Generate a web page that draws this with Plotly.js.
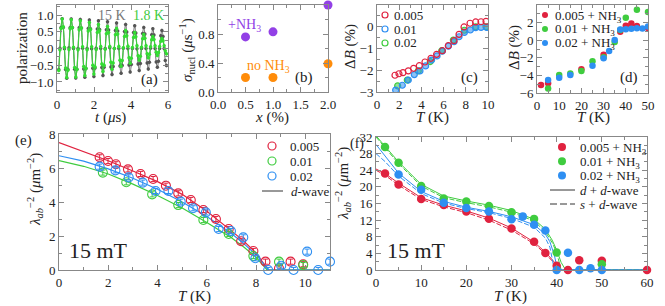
<!DOCTYPE html>
<html><head><meta charset="utf-8">
<script src="https://cdn.plot.ly/plotly-3.0.1.min.js"></script>
<style>html,body{margin:0;padding:0;background:#fff}#plot{width:665px;height:306px}</style>
</head><body><div id="plot"></div>
<script>
// ---------- DATA ----------
// (a) muon polarization, uniform time bins
const binStart = 0.096, binWidth = 0.06125;
const polar15K = [-0.63,0.01,0.63,0.89,0.63,-0.01,-0.63,-0.89, -0.62,0.02,0.62,0.88,0.62,0,-0.62,-0.88,
 -0.62,0,0.62,0.87,0.61,0.01,-0.61,-0.86, -0.60,0,0.60,0.85,0.59,-0.01,-0.59,-0.84,
 -0.58,0.01,0.58,0.83,0.57,0,-0.57,-0.81, -0.56,0,0.56,0.80,0.55,0.02,-0.55,-0.78,
 -0.54,0,0.54,0.76,0.52,0,-0.52,-0.74, -0.51,0.01,0.51,0.72,0.49,0,-0.49,-0.70,
 -0.48,0,0.48,0.68,0.46,-0.01,-0.46,-0.66, -0.45,0,0.45,0.63,0.43,0,-0.43,-0.61,
 -0.41,0.01,0.41,0.59,0.40,0,-0.40,-0.56, -0.38,0,0.38,0.54,0.36,0,-0.36,-0.51];
const polar18K = [-0.66,-0.04,0.60,0.88,0.65,0.04,-0.58,-0.87, -0.65,-0.03,0.59,0.86,0.63,0.04,-0.57,-0.85,
 -0.63,-0.04,0.56,0.83,0.61,0.05,-0.54,-0.81, -0.60,-0.04,0.52,0.78,0.57,0.05,-0.50,-0.76,
 -0.55,-0.03,0.48,0.72,0.53,0.06,-0.46,-0.69, -0.50,-0.02,0.44,0.66,0.48,0.06,-0.41,-0.62,
 -0.43,0.0,0.41,0.60,0.43,0.06,-0.35,-0.53, -0.36,0.02,0.36,0.54,0.38,0.07,-0.28,-0.44,
 -0.29,0.03,0.33,0.48,0.35,0.08,-0.22,-0.35, -0.23,0.04,0.29,0.42,0.31,0.08,-0.16,-0.28,
 -0.17,0.05,0.26,0.36,0.27,0.08,-0.11,-0.21, -0.12,0.06,0.22,0.30,0.23,0.08,-0.07,-0.16];

// (b) nuclear relaxation
const xPct = [0.5, 1.0, 2.0];
const sigmaNH3 = [0.76, 0.83, 1.2];
const sigmaNoNH3 = [0.2, 0.2, 0.39];

// (c) field shift, no NH3
const Tc005 = [1.62,1.98,2.34,2.82,3.3,3.81,4.32,4.86,5.37,5.89,6.43,6.94,7.39,7.84,8.38,8.89,9.37,9.82];
const dBc005 = [-2.23,-2.16,-2.11,-2.03,-1.91,-1.79,-1.62,-1.45,-1.27,-1.10,-0.87,-0.64,-0.35,-0.01,0.16,0.22,0.23,0.25];
const Tc01 = [1.68,2.28,2.82,3.36,3.87,4.38,4.92,5.41,5.89,6.43,6.94,7.39,7.87,8.41,8.89,9.37,9.88];
const dBc01 = [-2.91,-2.69,-2.45,-2.20,-2.03,-1.80,-1.53,-1.34,-1.12,-0.89,-0.69,-0.46,-0.26,-0.15,-0.04,-0.03,-0.03];
const Tc02 = [1.86,2.73,3.72,4.8,5.83,6.88,7.87,8.89,9.82];
const dBc02 = [-2.72,-2.45,-2.03,-1.6,-1.10,-0.61,-0.16,0.0,0.0];

// (d) field shift, + NH3
const Td005 = [1.8,5,20,30,37.5,40,42.5,45,50];
const dBd005 = [-5.1,-4.9,-3.3,-1.65,0.95,1.65,1.9,1.6,1.4];
const Td01 = [5,10,15,20,25,30,35,37.5,40,45,50];
const dBd01 = [-5.5,-3.95,-3.78,-3.5,-2.4,-1.95,-0.2,1.15,2.55,3.45,3.2];
const Td02 = [5,10,15,25,30,32.5,35,37.5,40,42.5,45,47.5,50];
const dBd02 = [-4.52,-4.26,-3.95,-2.9,-2.06,-1.23,0.02,1.23,1.25,1.3,1.35,1.33,1.55];

// (e) superfluid density, no NH3
const Te005 = [1.65,1.99,2.31,2.80,3.31,3.82,4.34,4.84,5.35,5.86,6.37,6.89,7.39,7.89,8.38,8.93,9.40,9.91];
const Le005 = [6.63,6.41,6.22,5.92,5.65,5.35,4.96,4.51,4.12,3.53,3.0,2.41,1.69,1.12,0.49,0.1,0.49,0.34];
const Te01 = [1.78,2.73,3.78,4.84,5.86,6.89,7.89,8.93,9.91];
const Le01 = [5.73,5.16,4.45,3.82,2.94,2.12,0.82,0.49,0.29];
const Te02 = [1.65,2.29,2.83,3.40,3.92,4.44,4.94,5.44,5.96,6.48,6.98,7.48,7.97,8.49,9.02,9.52,10.07,10.52,11.0];
const Le02 = [6.08,5.86,5.45,5.14,4.65,4.65,4.02,3.63,3.39,2.41,2.29,1.92,0.69,0,0.25,0,1.08,0,0.49];
const fitTe005 = [0,1,2,3,4,5,6,7,7.5,8,8.5,11], fitLe005 = [7.5,6.98,6.43,5.82,5.2,4.45,3.45,2.3,1.7,1.0,0,0];
const fitTe01 = [0,1,2,3,4,5,6,7,7.5,8,8.45,11], fitLe01 = [6.43,6.1,5.65,5.05,4.38,3.65,2.8,1.9,1.35,0.75,0,0];
const fitTe02 = [0,1,2,3,4,5,6,7,7.5,8,8.5,11], fitLe02 = [6.72,6.4,5.95,5.4,4.75,4.0,3.15,2.15,1.55,0.9,0,0];

// (f) superfluid density, + NH3
const Tf005 = [2,5,10,15,20,25,30,35,37.5,40,42.5,45,50,60];
const Lf005 = [23.2,20.6,17.1,15.65,14.1,12.35,10.0,6.8,4.1,1.0,0,2.35,2.25,0];
const Tf01 = [2,5,10,15,20,25,30,35,40,50];
const Lf01 = [29.6,25.8,20.2,17.2,16.5,15.4,13.9,12.3,4.2,1.4];
const Tf02 = [5,10,15,20,25,30,32.5,35,37.5,40,42.5,45,47.5,50];
const Lf02 = [23.0,19.3,16.2,14.9,14.1,12.2,12.9,10.9,9.5,0,4.15,0,0.4,0];
const ddT005 = [0,2,5,10,15,20,25,30,35,37.5,39,40,41,60], ddL005 = [24.3,23.2,20.9,17.4,15.6,14.2,12.5,10.1,6.7,4.3,2.5,1.2,0,0];
const sdT005 = [0,2,5,10,15,20,25,30,35,37.5,39,40.5,60], sdL005 = [24.0,22.8,20.4,17.0,15.2,13.8,12.0,9.6,6.3,3.9,2.2,0,0];
const ddT01 = [0,2,5,10,15,20,25,30,35,37.5,39,40,41,42,60], ddL01 = [32.3,29.8,26.0,20.6,17.8,16.6,15.6,14.3,12.2,9.8,7.2,4.8,1.8,0,0];
const sdT01 = [0,2,5,10,15,20,25,30,35,37.5,39,40,41,60], sdL01 = [32.0,29.4,25.6,20.2,17.4,16.2,15.2,13.9,11.8,9.2,6.6,4.2,0,0];
const ddT02 = [0,2,5,10,15,20,25,30,35,37.5,38.5,39.5,40.2,60], ddL02 = [30.2,27.4,23.3,18.9,16.5,15.1,14.1,12.8,10.9,8.6,6.8,3.5,0,0];
const sdT02 = [0,2,5,10,15,20,25,30,35,37.5,38.5,39.5,60], sdL02 = [28.0,26.1,22.6,18.4,16.1,14.8,13.8,12.4,10.3,7.7,5.5,0,0];

// ---------- STYLE ----------
const W = 665, H = 306;
const FONT = 'Liberation Serif';
const RED = '#e0223f', GREEN = '#3fcc3f', BLUE = '#2e8ff2', GRAY = '#555';
const PURPLE = '#9240e6', ORANGE = '#ff8c0a', FRAME = '#888';
const fx = p => p / W, fy = p => 1 - p / H;

function axis(pxRange, range, dtick, minor, fmt, anchor, isY) {
  const dom = isY ? [fy(pxRange[1]), fy(pxRange[0])] : [fx(pxRange[0]), fx(pxRange[1])];
  return {
    domain: dom, range: range, dtick: dtick, tick0: 0, anchor: anchor,
    ticks: 'inside', ticklen: 5, tickwidth: 1, tickcolor: FRAME,
    minor: {dtick: minor, ticks: 'inside', ticklen: 3, tickcolor: FRAME, showgrid: false},
    showline: true, linecolor: FRAME, linewidth: 1, mirror: 'ticks',
    showgrid: false, zeroline: false, tickformat: fmt || '',
    tickfont: {family: FONT, size: 13, color: '#222'}, fixedrange: true
  };
}

const layout = {
  width: W, height: H, margin: {l: 0, r: 0, t: 0, b: 0},
  paper_bgcolor: '#fff', plot_bgcolor: 'rgba(0,0,0,0)', showlegend: false,
  font: {family: FONT, color: '#222'},
  xaxis:  axis([57,168], [0,6], 2, 1, '', 'y', false),
  yaxis:  axis([5,92], [-1.3,1.3], 0.5, 0.25, '.1f', 'x', true),
  xaxis2: axis([218,328], [0,2], 0.5, 0.25, '.1f', 'y2', false),
  yaxis2: axis([5,92], [0,1.2], 0.4, 0.2, '.1f', 'x2', true),
  xaxis3: axis([377,488], [0,10], 2, 1, '', 'y3', false),
  yaxis3: axis([5,92], [-3,1], 1, 0.5, '', 'x3', true),
  xaxis4: axis([537,648], [0,50], 10, 5, '', 'y4', false),
  yaxis4: axis([5,93], [-6,4], 2, 1, '', 'x4', true),
  xaxis5: axis([59,330], [0,11], 2, 1, '', 'y5', false),
  yaxis5: axis([134,270], [0,8], 2, 1, '', 'x5', true),
  xaxis6: axis([376,647], [0,60], 10, 5, '', 'y6', false),
  yaxis6: axis([137,270], [0,32], 4, 2, '', 'x6', true),
  annotations: [], shapes: []
};

function ann(text, x, y, size, opts) {
  layout.annotations.push(Object.assign({
    text: text, xref: 'paper', yref: 'paper', x: fx(x), y: fy(y),
    xanchor: 'center', yanchor: 'middle', showarrow: false,
    font: {family: FONT, size: size, color: '#222'}
  }, opts || {}));
}
function legCircle(x, y, r, color, filled) {
  layout.shapes.push({type: 'circle', xref: 'paper', yref: 'paper',
    xsizemode: 'pixel', ysizemode: 'pixel', xanchor: fx(x), yanchor: fy(y),
    x0: -r, x1: r, y0: -r, y1: r, line: {color: color, width: filled ? 0 : 1.2},
    fillcolor: filled ? color : 'rgba(0,0,0,0)'});
}
function legLine(x0, x1, y, dash) {
  layout.shapes.push({type: 'line', xref: 'paper', yref: 'paper',
    x0: fx(x0), x1: fx(x1), y0: fy(y), y1: fy(y), line: {color: '#333', width: 1, dash: dash || 'solid'}});
}

// axis titles
ann('polarization', 22, 48, 15, {textangle: -90});
ann('<i>t</i> (<i>μ</i>s)', 110, 118, 15);
ann('<i>σ</i><sub>nucl</sub> (<i>μ</i>s<sup>−1</sup>)', 187, 50, 15, {textangle: -90});
ann('<i>x</i> (%)', 272, 118, 15);
ann('Δ<i>B</i> (%)', 350, 47, 15, {textangle: -90});
ann('<i>T</i> (K)', 432, 118, 15);
ann('Δ<i>B</i> (%)', 514, 48, 15, {textangle: -90});
ann('<i>T</i> (K)', 593, 118, 15);
ann('<i>λ</i><sub><i>ab</i></sub><sup>−2</sup> (<i>μ</i>m<sup>−2</sup>)', 35, 190, 15, {textangle: -90});
ann('<i>T</i> (K)', 194, 296, 15);
ann('<i>λ</i><sub><i>ab</i></sub><sup>−2</sup> (<i>μ</i>m<sup>−2</sup>)', 343, 184, 15, {textangle: -90});
ann('<i>T</i> (K)', 511, 296, 15);

// panel labels and texts
ann('(a)', 149, 80, 15); ann('(b)', 304, 77, 15); ann('(c)', 469, 77, 15); ann('(d)', 629, 77, 15);
ann('(e)', 23, 141, 15); ann('(f)', 357, 144, 14);
ann('15 K', 112, 15, 14, {font: {family: FONT, size: 14, color: '#777'}});
ann('1.8 K', 148, 15, 14, {font: {family: FONT, size: 14, color: GREEN}});
ann('+NH<sub>3</sub>', 244, 25, 14, {font: {family: FONT, size: 14, color: PURPLE}});
ann('no NH<sub>3</sub>', 268, 66, 14, {font: {family: FONT, size: 14, color: ORANGE}});
ann('15 mT', 67, 250, 22, {xanchor: 'left'});
ann('15 mT', 385, 250, 22, {xanchor: 'left'});

// legends (c)
[['0.005', RED], ['0.01', BLUE], ['0.02', GREEN]].forEach((e, i) => {
  legCircle(385, 15 + 14 * i, 3, e[1], false);
  ann(e[0], 392, 15 + 14 * i, 13, {xanchor: 'left'});
});
// (d)
[['0.005 + NH<sub>3</sub>', RED], ['0.01 + NH<sub>3</sub>', GREEN], ['0.02 + NH<sub>3</sub>', BLUE]].forEach((e, i) => {
  legCircle(545, 15 + 14 * i, 3, e[1], true);
  ann(e[0], 553, 16 + 14 * i, 13, {xanchor: 'left'});
});
// (e)
[['0.005', RED], ['0.01', GREEN], ['0.02', BLUE]].forEach((e, i) => {
  legCircle(272, 146 + 15 * i, 4, e[1], false);
  ann(e[0], 288, 146 + 15 * i, 13, {xanchor: 'left'});
});
legLine(262, 283, 191); ann('<i>d</i>-wave', 289, 191, 13, {xanchor: 'left'});
// (f)
[['0.005 + NH<sub>3</sub>', RED], ['0.01 + NH<sub>3</sub>', GREEN], ['0.02 + NH<sub>3</sub>', BLUE]].forEach((e, i) => {
  legCircle(562, 147 + 14.3 * i, 4, e[1], true);
  ann(e[0], 578, 148 + 14.3 * i, 13, {xanchor: 'left'});
});
legLine(550, 575, 190); ann('<i>d</i> + <i>d</i>-wave', 578, 190, 13, {xanchor: 'left'});
legLine(550, 575, 204, '7px,3px'); ann('<i>s</i> + <i>d</i>-wave', 578, 204, 13, {xanchor: 'left'});

// ---------- TRACES ----------
const traces = [];
function add(o) { traces.push(Object.assign({type: 'scatter', hoverinfo: 'skip'}, o)); }

// (a)
add({x0: binStart, dx: binWidth, y: polar15K, xaxis: 'x', yaxis: 'y', mode: 'lines+markers',
  line: {color: '#707070', width: 1, shape: 'spline'}, marker: {color: GRAY, size: 3.5},
  error_y: {type: 'constant', value: 0.05, color: GRAY, thickness: 1, width: 0}});
add({x0: binStart, dx: binWidth, y: polar18K, xaxis: 'x', yaxis: 'y', mode: 'lines+markers',
  line: {color: GREEN, width: 1.2, shape: 'spline'}, marker: {color: '#33dd33', size: 3.5},
  error_y: {type: 'constant', value: 0.05, color: '#33dd33', thickness: 1, width: 0}});

// (b)
add({x: xPct, y: sigmaNH3, xaxis: 'x2', yaxis: 'y2', mode: 'markers', cliponaxis: false,
  marker: {color: PURPLE, size: 9}});
add({x: xPct, y: sigmaNoNH3, xaxis: 'x2', yaxis: 'y2', mode: 'markers', cliponaxis: false,
  marker: {color: ORANGE, size: 9}});

// (c)
add({x: Tc02, y: dBc02, xaxis: 'x3', yaxis: 'y3', mode: 'markers', marker: {symbol: 'circle', color: 'rgba(63,204,63,0.55)', size: 6, line: {color: GREEN, width: 1.2}}});
add({x: Tc01, y: dBc01, xaxis: 'x3', yaxis: 'y3', mode: 'markers', marker: {symbol: 'circle', color: 'rgba(46,143,242,0.55)', size: 6, line: {color: BLUE, width: 1.2}}});
add({x: Tc005, y: dBc005, xaxis: 'x3', yaxis: 'y3', mode: 'markers', marker: {symbol: 'circle-open', color: RED, size: 6, line: {width: 1.2}}});

// (d)
add({x: Td005, y: dBd005, xaxis: 'x4', yaxis: 'y4', mode: 'markers', marker: {color: RED, size: 6.5}});
add({x: Td01, y: dBd01, xaxis: 'x4', yaxis: 'y4', mode: 'markers', marker: {color: GREEN, size: 6.5}});
add({x: Td02, y: dBd02, xaxis: 'x4', yaxis: 'y4', mode: 'markers', marker: {color: BLUE, size: 6.5}});

// (e)
add({x: fitTe005, y: fitLe005, xaxis: 'x5', yaxis: 'y5', mode: 'lines', line: {color: RED, width: 1.2}});
add({x: fitTe01, y: fitLe01, xaxis: 'x5', yaxis: 'y5', mode: 'lines', line: {color: GREEN, width: 1.2}});
add({x: fitTe02, y: fitLe02, xaxis: 'x5', yaxis: 'y5', mode: 'lines', line: {color: BLUE, width: 1.2}});
const eb = c => ({type: 'constant', value: 0.15, color: c, thickness: 1, width: 2.5});
add({x: Te005, y: Le005, xaxis: 'x5', yaxis: 'y5', mode: 'markers', marker: {symbol: 'circle-open', color: RED, size: 9, line: {width: 1.1}}, error_y: eb(RED)});
add({x: Te01, y: Le01, xaxis: 'x5', yaxis: 'y5', mode: 'markers', marker: {symbol: 'circle-open', color: GREEN, size: 9, line: {width: 1.1}}, error_y: eb(GREEN)});
add({x: Te02, y: Le02, xaxis: 'x5', yaxis: 'y5', mode: 'markers', cliponaxis: false, marker: {symbol: 'circle-open', color: BLUE, size: 9, line: {width: 1.1}}, error_y: eb(BLUE)});

// (f)
add({x: ddT005, y: ddL005, xaxis: 'x6', yaxis: 'y6', mode: 'lines', line: {color: RED, width: 1}});
add({x: sdT005, y: sdL005, xaxis: 'x6', yaxis: 'y6', mode: 'lines', line: {color: RED, width: 1, dash: '5px,2px'}});
add({x: ddT01, y: ddL01, xaxis: 'x6', yaxis: 'y6', mode: 'lines', line: {color: GREEN, width: 1}});
add({x: sdT01, y: sdL01, xaxis: 'x6', yaxis: 'y6', mode: 'lines', line: {color: GREEN, width: 1, dash: '5px,2px'}});
add({x: ddT02, y: ddL02, xaxis: 'x6', yaxis: 'y6', mode: 'lines', line: {color: BLUE, width: 1}});
add({x: sdT02, y: sdL02, xaxis: 'x6', yaxis: 'y6', mode: 'lines', line: {color: BLUE, width: 1, dash: '5px,2px'}});
add({x: Tf005, y: Lf005, xaxis: 'x6', yaxis: 'y6', mode: 'markers', cliponaxis: false, marker: {color: RED, size: 8.5}});
add({x: Tf01, y: Lf01, xaxis: 'x6', yaxis: 'y6', mode: 'markers', cliponaxis: false, marker: {color: GREEN, size: 8.5}});
add({x: Tf02, y: Lf02, xaxis: 'x6', yaxis: 'y6', mode: 'markers', cliponaxis: false, marker: {color: BLUE, size: 8.5}});

Plotly.newPlot('plot', traces, layout, {staticPlot: true, displayModeBar: false});
</script></body></html>
